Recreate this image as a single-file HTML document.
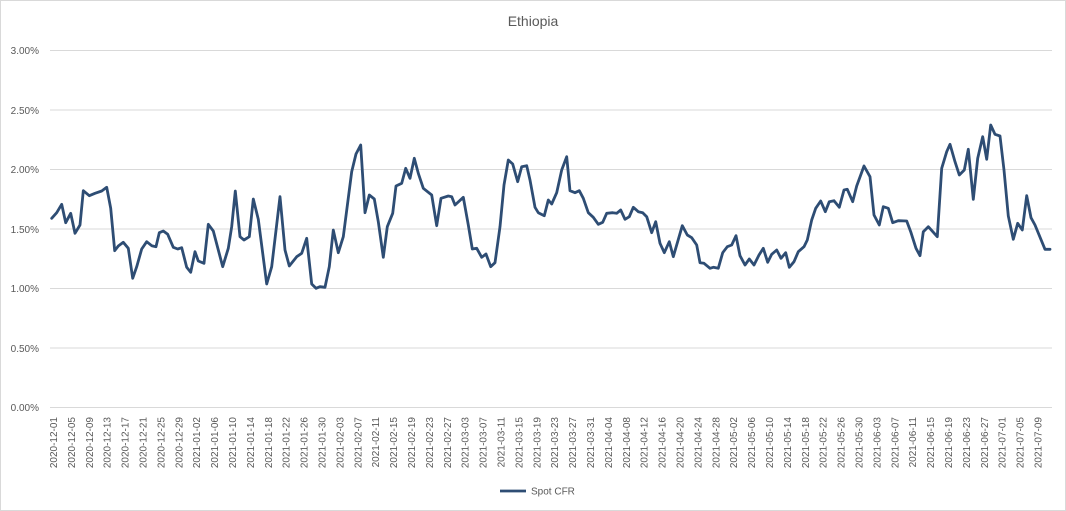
<!DOCTYPE html>
<html><head><meta charset="utf-8"><style>
html,body{margin:0;padding:0;background:#fff;}
svg{display:block;font-family:"Liberation Sans",sans-serif;}
</style></head><body>
<svg width="1066" height="511" viewBox="0 0 1066 511">
<rect x="0.5" y="0.5" width="1065" height="510" fill="#fff" stroke="#d9d9d9"/>
<text x="533" y="26" text-anchor="middle" font-size="14" fill="#595959">Ethiopia</text>
<g stroke="#d9d9d9" stroke-width="1">
<line x1="50" y1="50.5" x2="1052" y2="50.5"/>
<line x1="50" y1="110" x2="1052" y2="110"/>
<line x1="50" y1="169.5" x2="1052" y2="169.5"/>
<line x1="50" y1="229" x2="1052" y2="229"/>
<line x1="50" y1="288.5" x2="1052" y2="288.5"/>
<line x1="50" y1="348" x2="1052" y2="348"/>
<line x1="50" y1="407.5" x2="1052" y2="407.5"/>
</g>
<g font-size="10" fill="#595959" text-anchor="end">
<text x="39" y="54">3.00%</text>
<text x="39" y="114">2.50%</text>
<text x="39" y="173">2.00%</text>
<text x="39" y="233">1.50%</text>
<text x="39" y="292">1.00%</text>
<text x="39" y="352">0.50%</text>
<text x="39" y="411">0.00%</text>
</g>
<g font-size="10" fill="#595959" text-anchor="end">
<text transform="translate(57,417) rotate(-90)">2020-12-01</text>
<text transform="translate(74.9,417) rotate(-90)">2020-12-05</text>
<text transform="translate(92.8,417) rotate(-90)">2020-12-09</text>
<text transform="translate(110.7,417) rotate(-90)">2020-12-13</text>
<text transform="translate(128.6,417) rotate(-90)">2020-12-17</text>
<text transform="translate(146.5,417) rotate(-90)">2020-12-21</text>
<text transform="translate(164.4,417) rotate(-90)">2020-12-25</text>
<text transform="translate(182.3,417) rotate(-90)">2020-12-29</text>
<text transform="translate(200.2,417) rotate(-90)">2021-01-02</text>
<text transform="translate(218.1,417) rotate(-90)">2021-01-06</text>
<text transform="translate(236,417) rotate(-90)">2021-01-10</text>
<text transform="translate(253.9,417) rotate(-90)">2021-01-14</text>
<text transform="translate(271.8,417) rotate(-90)">2021-01-18</text>
<text transform="translate(289.7,417) rotate(-90)">2021-01-22</text>
<text transform="translate(307.6,417) rotate(-90)">2021-01-26</text>
<text transform="translate(325.5,417) rotate(-90)">2021-01-30</text>
<text transform="translate(343.4,417) rotate(-90)">2021-02-03</text>
<text transform="translate(361.3,417) rotate(-90)">2021-02-07</text>
<text transform="translate(379.2,417) rotate(-90)">2021-02-11</text>
<text transform="translate(397.1,417) rotate(-90)">2021-02-15</text>
<text transform="translate(415,417) rotate(-90)">2021-02-19</text>
<text transform="translate(432.9,417) rotate(-90)">2021-02-23</text>
<text transform="translate(450.8,417) rotate(-90)">2021-02-27</text>
<text transform="translate(468.7,417) rotate(-90)">2021-03-03</text>
<text transform="translate(486.6,417) rotate(-90)">2021-03-07</text>
<text transform="translate(504.5,417) rotate(-90)">2021-03-11</text>
<text transform="translate(522.4,417) rotate(-90)">2021-03-15</text>
<text transform="translate(540.3,417) rotate(-90)">2021-03-19</text>
<text transform="translate(558.2,417) rotate(-90)">2021-03-23</text>
<text transform="translate(576.1,417) rotate(-90)">2021-03-27</text>
<text transform="translate(594,417) rotate(-90)">2021-03-31</text>
<text transform="translate(611.9,417) rotate(-90)">2021-04-04</text>
<text transform="translate(629.8,417) rotate(-90)">2021-04-08</text>
<text transform="translate(647.7,417) rotate(-90)">2021-04-12</text>
<text transform="translate(665.6,417) rotate(-90)">2021-04-16</text>
<text transform="translate(683.5,417) rotate(-90)">2021-04-20</text>
<text transform="translate(701.4,417) rotate(-90)">2021-04-24</text>
<text transform="translate(719.3,417) rotate(-90)">2021-04-28</text>
<text transform="translate(737.2,417) rotate(-90)">2021-05-02</text>
<text transform="translate(755.1,417) rotate(-90)">2021-05-06</text>
<text transform="translate(773,417) rotate(-90)">2021-05-10</text>
<text transform="translate(790.9,417) rotate(-90)">2021-05-14</text>
<text transform="translate(808.8,417) rotate(-90)">2021-05-18</text>
<text transform="translate(826.7,417) rotate(-90)">2021-05-22</text>
<text transform="translate(844.6,417) rotate(-90)">2021-05-26</text>
<text transform="translate(862.5,417) rotate(-90)">2021-05-30</text>
<text transform="translate(880.4,417) rotate(-90)">2021-06-03</text>
<text transform="translate(898.3,417) rotate(-90)">2021-06-07</text>
<text transform="translate(916.2,417) rotate(-90)">2021-06-11</text>
<text transform="translate(934.1,417) rotate(-90)">2021-06-15</text>
<text transform="translate(952,417) rotate(-90)">2021-06-19</text>
<text transform="translate(969.9,417) rotate(-90)">2021-06-23</text>
<text transform="translate(987.8,417) rotate(-90)">2021-06-27</text>
<text transform="translate(1005.7,417) rotate(-90)">2021-07-01</text>
<text transform="translate(1023.6,417) rotate(-90)">2021-07-05</text>
<text transform="translate(1041.5,417) rotate(-90)">2021-07-09</text>
</g>
<polyline fill="none" stroke="#2e4d74" stroke-width="2.8" stroke-linejoin="round" stroke-linecap="round" points="51.7,218.3 56.7,212.7 61.7,204.3 65.7,222.7 70.7,213.3 75,233.3 80,225 83.3,190.7 89.3,195.7 95,193.3 101.7,191 106.7,187.3 110.7,208.3 114.7,250.7 118.3,246 123.3,242.3 128.3,248.3 132.7,278.3 136.7,266.7 141.7,249 146.7,241.7 151.7,245.7 156,246.7 159.3,232.7 163.3,231 167.7,234.3 173.3,247.3 177.7,249 181.7,247.7 186.7,267.3 190.7,272.3 195,251.7 198.3,261 204,263.3 208.3,224.3 213.3,231 222.7,266.7 228.3,248.3 231.7,226.7 235.3,191 240,236.7 244,240 249.3,236.7 253.3,199 258.3,219.3 266.7,284 271.7,266.7 280,196.7 285,250 289.3,266 296.7,256.7 301.7,253.3 306.7,238.3 311.7,284 316,288.3 320,286.7 325,287.3 329.3,266.7 333.3,230 338.3,252.7 343.3,236.7 351.7,171.7 356,154 360.7,145 365,212.7 369.3,195 374.3,199 378.3,221.7 383.3,257.3 387.3,226.7 392.7,213.3 396,186 401.7,183.3 405.7,168.3 410,178.3 414.3,158.3 418.3,173.3 423.3,188.3 431.7,195 436.7,225.7 441,198.3 448.3,196 451.7,196.7 455,205 463.3,197.3 468.3,225 472.3,249 476.7,248.3 481.7,257.3 486,254 490.7,266.7 495,262.7 500,226.7 504,185 508.3,160 512.7,164 517.7,181.7 521.7,166.7 526.7,165.7 530,180 535,207.3 538.3,212.7 544.3,215.7 548.3,200 551.7,204 556.7,192.7 561.7,170 566.7,156.7 570,190.7 575,192.7 579.3,190.7 583.3,198.3 588.3,212.7 593.3,217.3 598.3,224.3 602.7,222.3 606.7,213.3 612.7,212.7 616.7,213.3 620.7,210 625,219.3 629.3,216.7 633.3,207.3 638.3,211.7 642.7,212.7 646.7,216.7 651.7,232.7 655.7,221.7 660,243.3 664.3,252.7 669.3,241.7 673.3,256.7 682.3,225.7 687.3,235 691.7,237.7 696.7,245 700,262.7 704,263.3 710,268.3 713.3,267.3 718.3,268.3 722.7,252.7 727.3,246.7 731.7,245 736,235.7 740,255.7 745,265 749.3,259 754,265 759,255 763.3,248.3 767.7,262.3 771.7,254.3 776.7,250 781,258.3 785.7,252.7 789.3,267.3 794,261.7 798.3,251.7 804,246.7 807.3,240 811.7,220 815.7,208.3 820.7,201 825.3,211.7 829.3,201.7 834,200.7 839.3,207.3 844,190 847.3,189.3 852.7,201.7 856.7,186 864,166 870,176.7 874,215 879.3,225 883.3,206.7 888.3,208.3 892.7,222.7 898.3,220.7 906.7,221 910.7,231.7 916,248.3 920,255.7 923.3,231.7 928.3,226.7 937.3,236.7 941.7,168.3 946.7,151.7 950,144.3 955,161.7 959.3,175 964.3,170 968.3,149.3 973.3,199.3 977.7,158.3 982.7,136.7 986.7,159.3 990.7,125 995,134.3 1000,136 1004,170 1008.3,216 1013.3,239.3 1017.7,223.3 1022.3,230 1026.7,195.7 1031,217.7 1035,225 1045,249.3 1050,249.3"/>
<line x1="500" y1="491" x2="526" y2="491" stroke="#2e4d74" stroke-width="2.8"/>
<text x="531" y="494.5" font-size="10" fill="#595959">Spot CFR</text>
</svg>
</body></html>
